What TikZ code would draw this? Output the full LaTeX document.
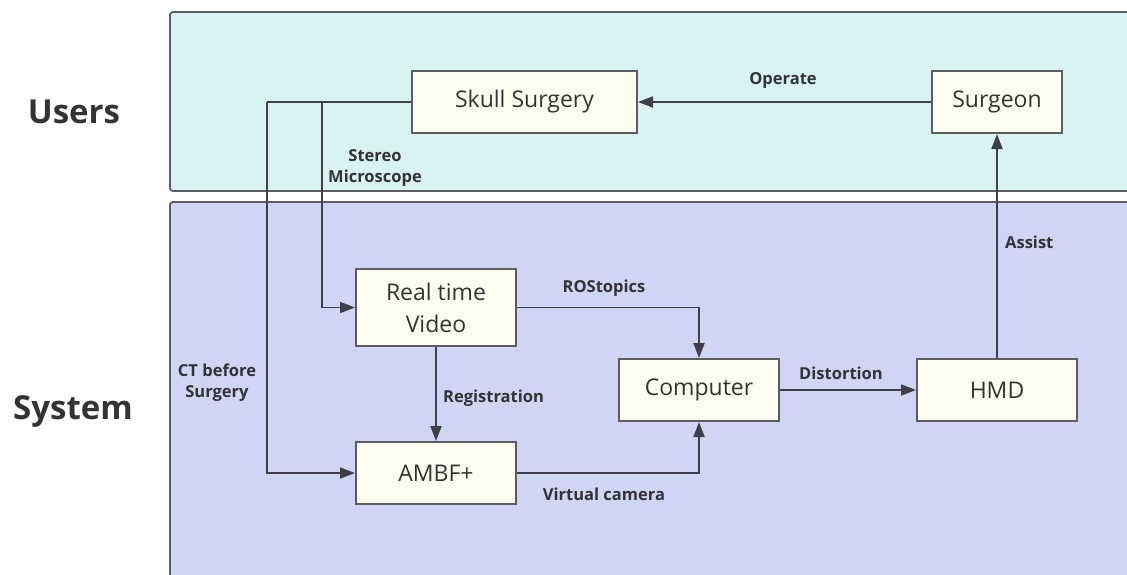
\documentclass[tikz,border=0pt]{standalone}
\usepackage{fontspec}
\setmainfont{Open Sans}
\usetikzlibrary{arrows.meta}
\definecolor{usersbg}{HTML}{D9F3F4}
\definecolor{systembg}{HTML}{D0D4F5}
\definecolor{boxbg}{HTML}{FEFEF0}
\definecolor{edge}{HTML}{3E4045}
\definecolor{ink}{HTML}{333333}
\tikzset{
  panel/.style={draw=edge!85, line width=1.8pt, rounded corners=3pt},
  block/.style={draw=edge!85, fill=boxbg, line width=2pt, text=ink,
    font=\fontsize{23}{32}\selectfont, align=center, inner sep=0pt},
  flow/.style={draw=edge, line width=1.8pt, -{Triangle[length=15pt,width=11pt]}},
  wire/.style={draw=edge, line width=1.8pt},
  tag/.style={text=ink, font=\bfseries\fontsize{16.5}{21}\selectfont, align=center, inner sep=0pt},
  lane/.style={text=ink, font=\bfseries\fontsize{33}{40}\selectfont, inner sep=0pt}
}
\begin{document}
\begin{tikzpicture}[x=1pt,y=-1pt]
\useasboundingbox (0,0) rectangle (1127,574);
\clip (0,0) rectangle (1127,574);
\fill[white] (0,0) rectangle (1127,574);

% swimlanes
\draw[panel, fill=usersbg] (170,12) rectangle (1145,191);
\draw[panel, fill=systembg] (170,202) rectangle (1145,600);
\node[lane] (users) at (74,112) {Users};
\node[lane] (system) at (73,412) {System};

% blocks
\node[block, minimum width=225pt, minimum height=62pt] (skull) at (524.5,102) {Skull Surgery};
\node[block, minimum width=130pt, minimum height=62pt] (surgeon) at (997,102) {Surgeon};
\node[block, minimum width=160pt, minimum height=77pt] (rtv) at (436,307.5) {Real time\\Video};
\node[block, minimum width=160pt, minimum height=62pt] (ambf) at (436,473) {AMBF+};
\node[block, minimum width=160pt, minimum height=62pt] (computer) at (699,390) {Computer};
\node[block, minimum width=160pt, minimum height=62pt] (hmd) at (997,390) {HMD};

% routing points
\coordinate (ctturn) at (267,102);
\coordinate (stereosplit) at (322,102);

% connectors
\draw[flow] (surgeon.west) -- (skull.east);
\draw[wire] (skull.west) -- (ctturn);
\draw[flow] (ctturn) |- (ambf.west);
\draw[flow] (stereosplit) |- (rtv.west);
\draw[flow] (rtv.south) -- (ambf.north);
\draw[flow] (rtv.east) -| (computer.north);
\draw[flow] (ambf.east) -| (computer.south);
\draw[flow] (computer.east) -- (hmd.west);
\draw[flow] (hmd.north) -- (surgeon.south);

% connector labels
\node[tag] (lop) at (783,80) {Operate};
\node[tag] (lstereo) at (375,168) {Stereo\\Microscope};
\node[tag] (lct) at (217,382.5) {CT before\\Surgery};
\node[tag, anchor=west] (lreg) at (443,398) {Registration};
\node[tag] (lros) at (604,288) {ROStopics};
\node[tag] (lvirt) at (604,494) {Virtual camera};
\node[tag] (ldist) at (841,373) {Distortion};
\node[tag, anchor=west] (lassist) at (1005,242) {Assist};
\end{tikzpicture}
\end{document}
